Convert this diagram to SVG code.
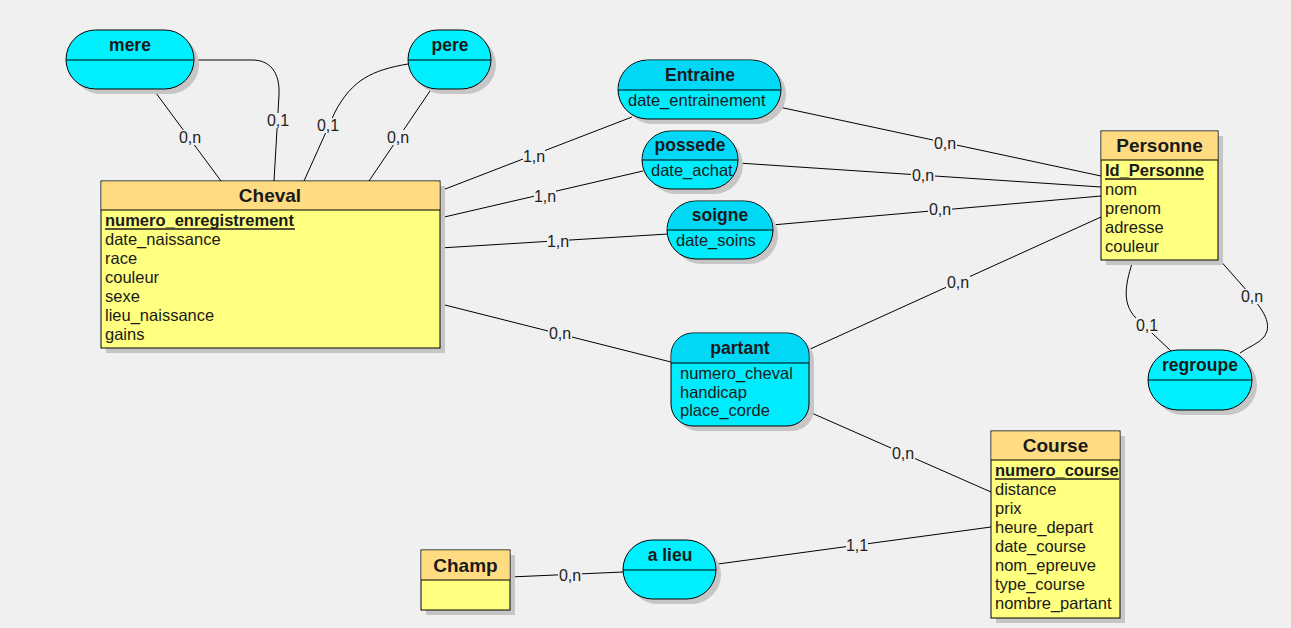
<svg xmlns="http://www.w3.org/2000/svg" width="1291" height="628" viewBox="0 0 1291 628">
<style>
text{font-family:"Liberation Sans",Arial,sans-serif;fill:#1a1a1a}
.bg{fill:#f0f0f0}
.sh{fill:#c6c6c6}
.ebody{fill:#ffff80;stroke:#000;stroke-width:1}
.ehead{fill:#ffdc82}
.abody{fill:#00f0ff;stroke:#000;stroke-width:1}
.abody2{fill:#00ecfc;stroke:#000;stroke-width:1}
.ahead{fill:#00d8f6}
.div{stroke:#000;stroke-width:1}
.et{font-size:19px;font-weight:bold;text-anchor:middle}
.at{font-size:17.5px;font-weight:bold;text-anchor:middle}
.attr{font-size:16.5px}
.key{font-size:16.5px;font-weight:bold}
.ul{stroke:#1a1a1a;stroke-width:1.3}
.ln{fill:none;stroke:#000;stroke-width:1}
.lb{font-size:16px;text-anchor:middle;fill:#222}
.lbg{fill:#f0f0f0}
</style>
<rect class="bg" x="0" y="0" width="1291" height="628"/>

<g id="connectors">
<line class="ln" x1="153" y1="89" x2="221" y2="181"/>
<path class="ln" d="M194,60 L252,60 C270,60 280,72 279,95 L274,181"/>
<path class="ln" d="M408,64 C372,70 352,80 335,112 L304,181"/>
<line class="ln" x1="432" y1="88" x2="369" y2="181"/>
<line class="ln" x1="440" y1="191" x2="632" y2="117"/>
<line class="ln" x1="779" y1="107" x2="1101" y2="176"/>
<line class="ln" x1="440" y1="218" x2="643" y2="171"/>
<line class="ln" x1="738" y1="163" x2="1101" y2="187"/>
<line class="ln" x1="440" y1="248" x2="668" y2="234"/>
<line class="ln" x1="772" y1="225" x2="1101" y2="196"/>
<line class="ln" x1="808" y1="350" x2="1101" y2="217"/>
<line class="ln" x1="441" y1="304" x2="671" y2="362"/>
<line class="ln" x1="807" y1="411" x2="991" y2="492"/>
<line class="ln" x1="718" y1="564" x2="991" y2="527"/>
<line class="ln" x1="510" y1="577" x2="623" y2="572"/>
<path class="ln" d="M1133,260 C1127,280 1120,302 1136,318 L1171,351"/>
<path class="ln" d="M1218,258 L1248,292 C1258,305 1275,322 1264,337 C1258,344 1250,346 1240,353"/>
<rect class="lbg" x="178" y="130" width="24" height="15"/>
<rect class="lbg" x="266" y="113" width="24" height="15"/>
<rect class="lbg" x="316" y="118" width="24" height="15"/>
<rect class="lbg" x="386" y="130" width="24" height="15"/>
<rect class="lbg" x="523" y="149" width="22" height="15"/>
<rect class="lbg" x="933" y="136" width="24" height="15"/>
<rect class="lbg" x="534" y="189" width="22" height="15"/>
<rect class="lbg" x="911" y="168" width="24" height="15"/>
<rect class="lbg" x="547" y="234" width="22" height="15"/>
<rect class="lbg" x="928" y="202" width="24" height="15"/>
<rect class="lbg" x="946" y="275" width="24" height="15"/>
<rect class="lbg" x="548" y="326" width="24" height="15"/>
<rect class="lbg" x="891" y="446" width="24" height="15"/>
<rect class="lbg" x="846" y="538" width="22" height="15"/>
<rect class="lbg" x="558" y="568" width="24" height="15"/>
<rect class="lbg" x="1135" y="318" width="24" height="15"/>
<rect class="lbg" x="1240" y="289" width="24" height="15"/>
<text class="lb" x="190" y="143">0,n</text>
<text class="lb" x="278" y="126">0,1</text>
<text class="lb" x="328" y="131">0,1</text>
<text class="lb" x="398" y="143">0,n</text>
<text class="lb" x="534" y="162">1,n</text>
<text class="lb" x="945" y="149">0,n</text>
<text class="lb" x="545" y="202">1,n</text>
<text class="lb" x="923" y="181">0,n</text>
<text class="lb" x="558" y="247">1,n</text>
<text class="lb" x="940" y="215">0,n</text>
<text class="lb" x="958" y="288">0,n</text>
<text class="lb" x="560" y="339">0,n</text>
<text class="lb" x="903" y="459">0,n</text>
<text class="lb" x="857" y="551">1,1</text>
<text class="lb" x="570" y="581">0,n</text>
<text class="lb" x="1147" y="331">0,1</text>
<text class="lb" x="1252" y="302">0,n</text>
</g>

<g id="mere">
<rect class="sh" x="71" y="35" width="128" height="59" rx="29.5"/>
<rect class="abody" x="66" y="30" width="128" height="59" rx="29.5"/>
<line class="div" x1="66" y1="60" x2="194" y2="60"/>
<text class="at" x="130" y="51">mere</text>
</g>

<g id="pere">
<rect class="sh" x="413" y="35" width="83" height="59" rx="29.5"/>
<rect class="abody" x="408" y="30" width="83" height="59" rx="29.5"/>
<line class="div" x1="408" y1="60" x2="491" y2="60"/>
<text class="at" x="450" y="51">pere</text>
</g>

<g id="entraine">
<rect class="sh" x="623" y="65" width="163" height="59" rx="29.5"/>
<rect class="abody2" x="618" y="60" width="163" height="59" rx="29.5"/>
<path class="ahead" d="M618.5,90 L618.5,89.5 A29.5,29.5 0 0 1 647.5,60.5 L751.5,60.5 A29.5,29.5 0 0 1 780.5,89.5 L780.5,90 Z"/>
<line class="div" x1="618" y1="90" x2="781" y2="90"/>
<text class="at" x="700" y="81">Entraine</text>
<text class="attr" x="628" y="106">date_entrainement</text>
</g>

<g id="possede">
<rect class="sh" x="647" y="136" width="96" height="58" rx="29"/>
<rect class="abody2" x="642" y="131" width="96" height="58" rx="29"/>
<path class="ahead" d="M642.5,160 A29,29 0 0 1 671,131.5 L709,131.5 A29,29 0 0 1 737.5,160 Z"/>
<line class="div" x1="642" y1="160" x2="738" y2="160"/>
<text class="at" x="690" y="151">possede</text>
<text class="attr" x="651" y="176">date_achat</text>
</g>

<g id="soigne">
<rect class="sh" x="672" y="206" width="106" height="58" rx="29"/>
<rect class="abody2" x="667" y="201" width="106" height="58" rx="29"/>
<path class="ahead" d="M667.5,230 A29,29 0 0 1 696,201.5 L744,201.5 A29,29 0 0 1 772.5,230 Z"/>
<line class="div" x1="667" y1="230" x2="773" y2="230"/>
<text class="at" x="720" y="221">soigne</text>
<text class="attr" x="676" y="246">date_soins</text>
</g>

<g id="partant">
<rect class="sh" x="676" y="338" width="138" height="93" rx="22"/>
<rect class="abody2" x="671" y="333" width="138" height="93" rx="22"/>
<path class="ahead" d="M671.5,363 L671.5,355 A21.5,21.5 0 0 1 693,333.5 L787,333.5 A21.5,21.5 0 0 1 808.5,355 L808.5,363 Z"/>
<line class="div" x1="671" y1="363" x2="809" y2="363"/>
<text class="at" x="740" y="354">partant</text>
<text class="attr" x="680" y="379">numero_cheval</text>
<text class="attr" x="680" y="397.5">handicap</text>
<text class="attr" x="680" y="416">place_corde</text>
</g>

<g id="regroupe">
<rect class="sh" x="1153" y="355" width="104" height="60" rx="30"/>
<rect class="abody" x="1148" y="350" width="104" height="60" rx="30"/>
<line class="div" x1="1148" y1="380" x2="1252" y2="380"/>
<text class="at" x="1200" y="371">regroupe</text>
</g>

<g id="alieu">
<rect class="sh" x="628" y="545" width="93" height="59" rx="29.5"/>
<rect class="abody" x="623" y="540" width="93" height="59" rx="29.5"/>
<line class="div" x1="623" y1="570" x2="716" y2="570"/>
<text class="at" x="670" y="561">a lieu</text>
</g>

<g id="cheval">
<rect class="sh" x="106" y="186" width="339" height="167"/>
<rect class="ebody" x="101" y="181" width="339" height="167"/>
<rect class="ehead" x="101.5" y="181.5" width="338" height="28.5"/>
<line class="div" x1="101" y1="210" x2="440" y2="210"/>
<text class="et" x="270" y="202">Cheval</text>
<text class="key" x="105" y="226">numero_enregistrement</text>
<line class="ul" x1="105" y1="229" x2="295" y2="229"/>
<text class="attr" x="105" y="245">date_naissance</text>
<text class="attr" x="105" y="264">race</text>
<text class="attr" x="105" y="283">couleur</text>
<text class="attr" x="105" y="302">sexe</text>
<text class="attr" x="105" y="321">lieu_naissance</text>
<text class="attr" x="105" y="340">gains</text>
</g>

<g id="personne">
<rect class="sh" x="1106" y="136" width="117" height="129"/>
<rect class="ebody" x="1101" y="131" width="117" height="129"/>
<rect class="ehead" x="1101.5" y="131.5" width="116" height="28.5"/>
<line class="div" x1="1101" y1="160" x2="1218" y2="160"/>
<text class="et" x="1159.5" y="152">Personne</text>
<text class="key" x="1105" y="176">Id_Personne</text>
<line class="ul" x1="1105" y1="179" x2="1204" y2="179"/>
<text class="attr" x="1105" y="195">nom</text>
<text class="attr" x="1105" y="214">prenom</text>
<text class="attr" x="1105" y="233">adresse</text>
<text class="attr" x="1105" y="252">couleur</text>
</g>

<g id="course">
<rect class="sh" x="996" y="436" width="129" height="187"/>
<rect class="ebody" x="991" y="431" width="129" height="187"/>
<rect class="ehead" x="991.5" y="431.5" width="128" height="28.5"/>
<line class="div" x1="991" y1="460" x2="1120" y2="460"/>
<text class="et" x="1055.5" y="452">Course</text>
<text class="key" x="995" y="476">numero_course</text>
<line class="ul" x1="995" y1="479" x2="1119" y2="479"/>
<text class="attr" x="995" y="495">distance</text>
<text class="attr" x="995" y="514">prix</text>
<text class="attr" x="995" y="533">heure_depart</text>
<text class="attr" x="995" y="552">date_course</text>
<text class="attr" x="995" y="571">nom_epreuve</text>
<text class="attr" x="995" y="590">type_course</text>
<text class="attr" x="995" y="609">nombre_partant</text>
</g>

<g id="champ">
<rect class="sh" x="426" y="555" width="89" height="60"/>
<rect class="ebody" x="421" y="550" width="89" height="60"/>
<rect class="ehead" x="421.5" y="550.5" width="88" height="29.5"/>
<line class="div" x1="421" y1="580" x2="510" y2="580"/>
<text class="et" x="465.5" y="572">Champ</text>
</g>
</svg>
